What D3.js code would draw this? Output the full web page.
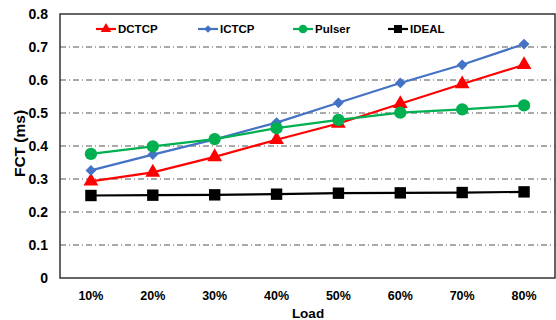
<!DOCTYPE html>
<html><head><meta charset="utf-8">
<script src="https://cdn.jsdelivr.net/npm/d3@7"></script>
<style>body{margin:0;background:#fff}svg{display:block;font-family:Arial,"Liberation Sans",sans-serif}</style>
</head><body><svg id="c" width="556" height="320"></svg>
<script>
const categories = ["10%","20%","30%","40%","50%","60%","70%","80%"];
const dctcp  = [0.293,0.320,0.367,0.419,0.468,0.528,0.588,0.646];
const ictcp  = [0.326,0.374,0.420,0.471,0.531,0.591,0.646,0.709];
const pulser = [0.376,0.399,0.421,0.454,0.479,0.501,0.511,0.523];
const ideal  = [0.250,0.251,0.252,0.254,0.257,0.258,0.259,0.261];
const yTicks = [0,0.1,0.2,0.3,0.4,0.5,0.6,0.7,0.8];
const seriesNames = ["DCTCP","ICTCP","Pulser","IDEAL"];

const series = [
  {name:seriesNames[0], values:dctcp,  color:"#ff0000", sym:d3.symbolTriangle, size:95, rot:0},
  {name:seriesNames[1], values:ictcp,  color:"#4472c4", sym:d3.symbolSquare, size:58, rot:45},
  {name:seriesNames[2], values:pulser, color:"#00b050", sym:d3.symbolCircle, size:120, rot:0},
  {name:seriesNames[3], values:ideal,  color:"#000000", sym:d3.symbolSquare, size:130, rot:0}
];

const svg = d3.select("#c");
const L=60,R=555,T=14,B=278;
const x = d3.scaleBand().domain(categories).range([L,R]);
const y = d3.scaleLinear().domain([0,0.8]).range([B,T]);

// gridlines
svg.append("g").selectAll("line").data(yTicks.filter(d=>d>0&&d<0.8)).join("line")
  .attr("x1",L).attr("x2",R).attr("y1",d=>y(d)).attr("y2",d=>y(d))
  .attr("stroke","#555").attr("stroke-width",1).attr("stroke-dasharray","6,3,1,3");

// plot border
svg.append("rect").attr("x",L).attr("y",T).attr("width",R-L).attr("height",B-T)
  .attr("fill","none").attr("stroke","#333").attr("stroke-width",1.5);

// y axis labels
const ya = svg.append("g").attr("transform",`translate(${L},0)`)
  .call(d3.axisLeft(y).tickValues(yTicks).tickSize(0).tickPadding(12).tickFormat(d=>d===0?"0":d3.format(".1f")(d)));
ya.select(".domain").remove();
ya.selectAll("text").attr("font-size",14).attr("font-weight","bold").attr("fill","#000").attr("font-family","Arial,'Liberation Sans',sans-serif");

// x axis labels
const xa = svg.append("g").attr("transform",`translate(0,${B})`)
  .call(d3.axisBottom(x).tickSize(0).tickPadding(13));
xa.select(".domain").remove();
xa.selectAll("text").attr("font-size",12.5).attr("font-weight","bold").attr("fill","#000").attr("font-family","Arial,'Liberation Sans',sans-serif");

// axis titles
svg.append("text").attr("x",308).attr("y",318).attr("text-anchor","middle")
  .attr("font-size",13.5).attr("font-weight","bold").text("Load");
svg.append("text").attr("transform","translate(25,143.5) rotate(-90)").attr("text-anchor","middle")
  .attr("font-size",15.5).attr("font-weight","bold").text("FCT (ms)");

const cx = d => x(d)+x.bandwidth()/2;
const line = d3.line().x((d,i)=>cx(categories[i])).y(d=>y(d));

series.forEach(s=>{
  svg.append("path").datum(s.values).attr("d",line).attr("fill","none")
    .attr("stroke",s.color).attr("stroke-width",2.2);
  svg.append("g").selectAll("path").data(s.values).join("path")
    .attr("transform",(d,i)=>`translate(${cx(categories[i])},${y(d)}) rotate(${s.rot})`)
    .attr("d",d3.symbol().type(s.sym).size(s.size)).attr("fill",s.color);
});

// legend
const legX = [96,198,293,388];
series.forEach((s,i)=>{
  const g = svg.append("g").attr("transform",`translate(${legX[i]},29)`);
  g.append("line").attr("x1",0).attr("x2",20).attr("stroke",s.color).attr("stroke-width",2.2);
  g.append("path").attr("transform",`translate(10,0) rotate(${s.rot})`).attr("d",d3.symbol().type(s.sym).size(s.size*0.5)).attr("fill",s.color);
  g.append("text").attr("x",22).attr("y",4.2).attr("font-size",11.5).attr("font-weight","bold").text(s.name);
});
</script></body></html>
